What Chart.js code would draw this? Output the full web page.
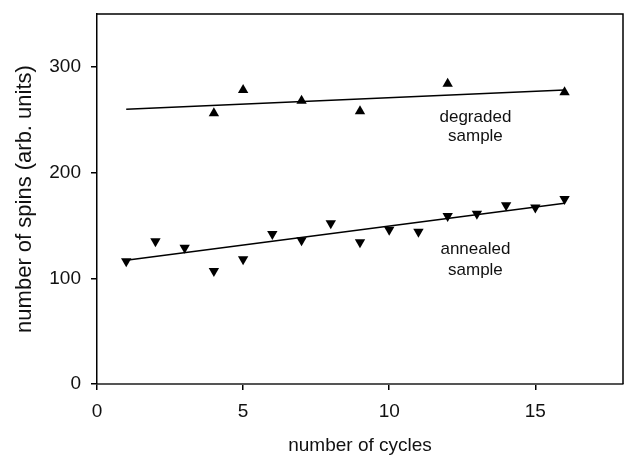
<!DOCTYPE html>
<html>
<head>
<meta charset="utf-8">
<script src="https://cdn.jsdelivr.net/npm/chart.js@4"></script>
<style>
  html, body { margin: 0; padding: 0; background: #fff; }
  #wrap { width: 629px; height: 457px; }
</style>
</head>
<body>
<div id="wrap"><canvas id="spinChart" width="629" height="457"></canvas></div>
<script>
// cycles / spins
const degradedCycles = [4, 5, 7, 9, 12, 16];
const degradedSpins  = [256, 278, 268, 258, 284, 276];

const annealedCycles = [1, 2, 3, 4, 5, 6, 7, 8, 9, 10, 11, 12, 13, 14, 15, 16];
const annealedSpins  = [116, 135, 129, 107, 118, 142, 136, 152, 134, 146, 144, 159, 161, 169, 167, 175];

// fitted lines (end points)
const degradedFitX = [1, 16];
const degradedFitY = [260, 278];
const annealedFitX = [1, 16];
const annealedFitY = [117, 171];

const xTicks = [0, 5, 10, 15];
const yTicks = [0, 100, 200, 300];

const FONT = "'Liberation Sans', Arial, Helvetica, sans-serif";

function pts(xs, ys) {
  return xs.map((x, i) => ({ x: x, y: ys[i] }));
}

// text labels beside the two series + the top/right frame
const annotate = {
  id: 'annotate',
  afterDraw(chart) {
    const { ctx, chartArea, scales } = chart;
    const xs = scales.x, ys = scales.y;
    ctx.save();
    ctx.strokeStyle = '#000';
    ctx.lineWidth = 1.5;
    ctx.beginPath();
    ctx.moveTo(chartArea.left, chartArea.top);
    ctx.lineTo(chartArea.right, chartArea.top);
    ctx.lineTo(chartArea.right, chartArea.bottom);
    ctx.stroke();

    ctx.fillStyle = '#111';
    ctx.font = '17px ' + FONT;
    ctx.textAlign = 'center';
    ctx.textBaseline = 'middle';
    const labels = [
      ['degraded', 12.95, 252], ['sample', 12.95, 234],
      ['annealed', 12.95, 127], ['sample', 12.95, 108]
    ];
    labels.forEach(l => {
      ctx.fillText(l[0], xs.getPixelForValue(l[1]), ys.getPixelForValue(l[2]));
    });
    ctx.restore();
  }
};

const ctx = document.getElementById('spinChart');

new Chart(ctx, {
  type: 'scatter',
  data: {
    datasets: [
      {
        label: 'degraded sample',
        data: pts(degradedCycles, degradedSpins),
        pointStyle: 'triangle',
        pointRadius: 6,
        pointRotation: 0,
        backgroundColor: '#000',
        borderColor: '#000',
        borderWidth: 0
      },
      {
        label: 'annealed sample',
        data: pts(annealedCycles, annealedSpins),
        pointStyle: 'triangle',
        pointRadius: 6,
        pointRotation: 180,
        backgroundColor: '#000',
        borderColor: '#000',
        borderWidth: 0
      },
      {
        label: 'degraded fit',
        data: pts(degradedFitX, degradedFitY),
        showLine: true,
        pointRadius: 0,
        borderColor: '#000',
        borderWidth: 1.5
      },
      {
        label: 'annealed fit',
        data: pts(annealedFitX, annealedFitY),
        showLine: true,
        pointRadius: 0,
        borderColor: '#000',
        borderWidth: 1.5
      }
    ]
  },
  options: {
    responsive: false,
    animation: false,
    layout: { padding: { top: 14, right: 1, bottom: 0, left: 0 } },
    plugins: {
      legend: { display: false },
      tooltip: { enabled: false }
    },
    scales: {
      x: {
        type: 'linear',
        min: 0,
        max: 18,
        afterBuildTicks: s => { s.ticks = xTicks.map(v => ({ value: v })); },
        afterFit: s => { s.height = 73; s.paddingLeft = 0; s.paddingRight = 0; },
        grid: { drawOnChartArea: false, drawTicks: true, tickLength: 6, color: '#000', lineWidth: 1.5 },
        border: { display: true, color: '#555', width: 2 },
        ticks: { color: '#111', font: { family: FONT, size: 19 }, padding: 10, maxRotation: 0 },
        title: { display: true, text: 'number of cycles', color: '#111', font: { family: FONT, size: 19 }, padding: { top: 0, bottom: 0 } }
      },
      y: {
        type: 'linear',
        min: 0,
        max: 350,
        afterBuildTicks: s => { s.ticks = yTicks.map(v => ({ value: v })); },
        afterFit: s => { s.width = 97; s.paddingTop = 0; s.paddingBottom = 0; },
        grid: { drawOnChartArea: false, drawTicks: true, tickLength: 6, color: '#000', lineWidth: 1.5 },
        border: { display: true, color: '#000', width: 1.5 },
        ticks: { color: '#111', font: { family: FONT, size: 19 }, padding: 10 },
        title: { display: true, text: 'number of spins (arb. units)', color: '#111', font: { family: FONT, size: 22 }, padding: { top: 12, bottom: 0 } }
      }
    }
  },
  plugins: [annotate]
});
</script>
</body>
</html>
